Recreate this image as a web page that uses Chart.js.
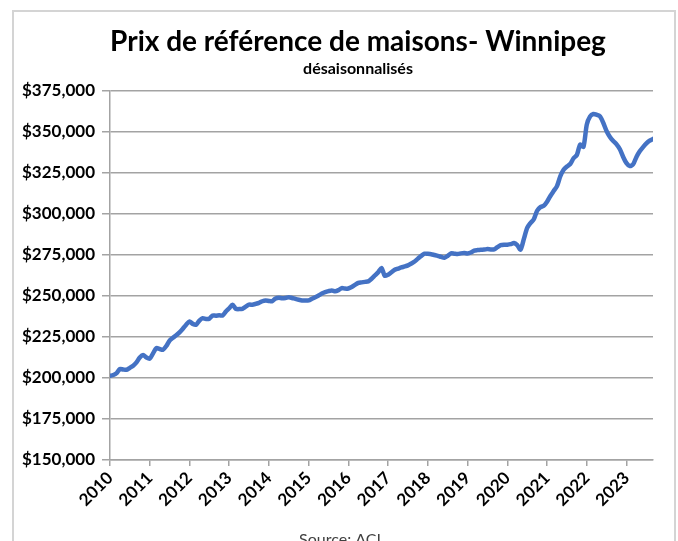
<!DOCTYPE html>
<html>
<head>
<meta charset="utf-8">
<title>Prix de référence de maisons - Winnipeg</title>
<script src="https://cdn.jsdelivr.net/npm/chart.js@4/dist/chart.umd.min.js"></script>
<style>
    body { margin: 0; background: #fff; }
    canvas { display: block; }
</style>
</head>
<body>
<canvas id="price-chart" width="678" height="541"></canvas>
<script>
// Monthly benchmark prices, Jan 2010 -> Sep 2023
const startYear = 2010;
const yearLabels = ['2010', '2011', '2012', '2013', '2014', '2015', '2016',
    '2017', '2018', '2019', '2020', '2021', '2022', '2023'];
const prices = [
    // 2010
    201300, 201800, 203000, 205500, 205200, 205000, 206200, 207500, 209500, 212500, 214000, 212500,
    // 2011
    211800, 215000, 218200, 217700, 217200, 219500, 222800, 224500, 226000, 227800, 230000, 232500,
    // 2012
    234500, 233000, 232500, 235000, 236500, 236000, 236200, 238100, 238000, 238200, 238100, 240500,
    // 2013
    242500, 244700, 242200, 242000, 242200, 243500, 244700, 244700, 245200, 245800, 246800, 247300,
    // 2014
    247000, 246900, 248500, 249000, 248600, 248800, 249300, 248800, 248200, 247700, 247300, 247200,
    // 2015
    247300, 248300, 249300, 250300, 251500, 252400, 253000, 253400, 252900, 253600, 254800, 254500,
    // 2016
    254600, 255500, 256800, 258000, 258300, 258600, 258900, 260500, 262500, 264500, 267100, 262300,
    // 2017
    263000, 264500, 266000, 266700, 267400, 268000, 268700, 269800, 271000, 272800, 274500, 275800,
    // 2018
    275700, 275500, 275000, 274500, 273800, 273300, 274500, 276000, 275800, 275600, 276000, 276200,
    // 2019
    275900, 276500, 277700, 278000, 278200, 278300, 278600, 278400, 278400, 279800, 281000, 281300,
    // 2020
    281300, 281600, 282300, 281000, 278300, 284800, 291500, 294500, 296800, 302000, 304200, 305000,
    // 2021
    307500, 311000, 314000, 317000, 323000, 327000, 329000, 330500, 334000, 336000, 342300, 341000,
    // 2022
    354500, 359500, 361000, 360500, 359500, 355500, 350500, 347000, 344500, 342500, 339500, 334800,
    // 2023
    331000, 329200, 330300, 334800, 338200, 340800, 343000, 344700, 345800
];
const yMin = 150000;
const yMax = 375000;
const yStep = 25000;

const titleText = 'Prix de référence de maisons- Winnipeg';
const subtitleText = 'désaisonnalisés';
const sourceText = 'Source: ACI';

const fontFamily = 'Lato, "Open Sans", sans-serif';
const gridColor = '#a3a3a3';

// frame, titles and source line drawn around the plot
const decorPlugin = {
    id: 'decor',
    beforeDraw(chart) {
        const ctx = chart.ctx;
        ctx.save();
        ctx.fillStyle = '#fff';
        ctx.fillRect(0, 0, chart.width, chart.height);
        ctx.strokeStyle = '#d4d4d4';
        ctx.lineWidth = 2;
        ctx.strokeRect(13, 11, 662, 560);
        ctx.restore();
    },
    afterDraw(chart) {
        const ctx = chart.ctx;
        ctx.save();
        ctx.fillStyle = '#000';
        ctx.textAlign = 'center';
        ctx.textBaseline = 'alphabetic';
        ctx.font = 'bold 28px ' + fontFamily;
        ctx.fillText(titleText, 358, 51);
        ctx.font = 'bold 16px ' + fontFamily;
        ctx.fillText(subtitleText, 358, 74);
        ctx.fillStyle = '#404040';
        ctx.font = '16px ' + fontFamily;
        ctx.fillText(sourceText, 340, 545);
        ctx.restore();
    }
};

const points = prices.map((value, i) => ({x: i, y: value}));

new Chart(document.getElementById('price-chart'), {
    type: 'line',
    data: {
        datasets: [{
            label: 'Prix de référence',
            data: points,
            borderColor: '#4472c4',
            borderWidth: 4.5,
            pointRadius: 0,
            tension: 0.25,
            borderCapStyle: 'round',
            borderJoinStyle: 'round',
            fill: false
        }]
    },
    options: {
        responsive: false,
        animation: false,
        devicePixelRatio: 1,
        layout: {
            padding: {left: 0, right: 25, top: 91, bottom: 21}
        },
        plugins: {
            legend: {display: false},
            title: {display: false},
            tooltip: {enabled: false}
        },
        scales: {
            x: {
                type: 'linear',
                min: 0,
                max: prices.length - 1,
                afterFit: (scale) => { scale.height = 60; },
                border: {display: true, color: gridColor, width: 1.5},
                grid: {
                    drawOnChartArea: false,
                    drawTicks: true,
                    tickLength: 6,
                    color: gridColor,
                    lineWidth: 1.5
                },
                ticks: {
                    stepSize: 12,
                    includeBounds: false,
                    autoSkip: false,
                    maxRotation: 45,
                    minRotation: 45,
                    padding: 2,
                    color: '#000',
                    font: {family: fontFamily, size: 17, weight: 'bold'},
                    callback: (value) => yearLabels[value / 12] ?? String(startYear + value / 12)
                }
            },
            y: {
                min: yMin,
                max: yMax,
                afterFit: (scale) => { scale.width = 110; },
                border: {display: true, color: gridColor, width: 1.5},
                grid: {
                    drawOnChartArea: true,
                    drawTicks: true,
                    tickLength: 8,
                    color: gridColor,
                    lineWidth: 1.5
                },
                ticks: {
                    stepSize: yStep,
                    padding: 7,
                    color: '#000',
                    font: {family: fontFamily, size: 17, weight: 'bold'},
                    callback: (value) => '$' + value.toLocaleString('en-US')
                }
            }
        }
    },
    plugins: [decorPlugin]
});
</script>
</body>
</html>
